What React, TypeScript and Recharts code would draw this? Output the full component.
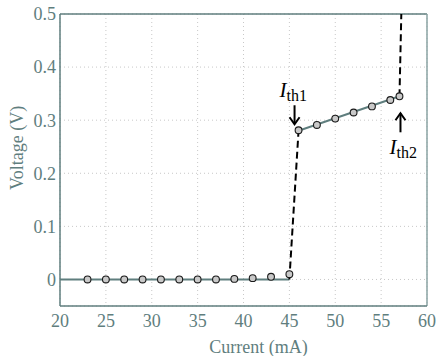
import { ComposedChart, Line, Scatter, XAxis, YAxis, CartesianGrid, ReferenceLine, ReferenceDot } from 'recharts'

const xTicks = [20, 25, 30, 35, 40, 45, 50, 55, 60]
const yTicks = [0, 0.1, 0.2, 0.3, 0.4, 0.5]

// measured points
const measCurrent = [23, 25, 27, 29, 31, 33, 35, 37, 39, 41, 43, 45, 46, 48, 50, 52, 54, 56, 57]
const measVoltage = [0, 0, 0, 0, 0, 0, 0, 0, 0.001, 0.0025, 0.005, 0.01, 0.281, 0.291, 0.303, 0.3145, 0.326, 0.338, 0.345]

// fitted segments
const fitLow = [{ x: 20, y: 0 }, { x: 45, y: 0 }]
const fitHigh = [{ x: 46, y: 0.28 }, { x: 57, y: 0.345 }]
const jump1 = [{ x: 45, y: 0 }, { x: 46, y: 0.28 }]
const jump2 = [{ x: 57, y: 0.345 }, { x: 57.2, y: 0.5 }]

const points = measCurrent.map((c, i) => ({ x: c, y: measVoltage[i] }))

const axisColor = '#5f7e7e'
const font = "'Liberation Serif', 'Times New Roman', serif"

const Dot = (p: any) => (
  <circle cx={p.cx} cy={p.cy} r={3.4} fill="#c9c9c9" stroke="#1a1a1a" strokeWidth={1.1} />
)

const Ith = ({ cx, cy, sub, up }: any) => {
  // arrow and label placed relative to the point
  const lbl = (x: number, y: number) => (
    <text x={x} y={y} style={{ fontFamily: font }} fill="#000">
      <tspan fontStyle="italic" fontSize={21}>I</tspan>
      <tspan fontSize={16} dy={4}>{sub}</tspan>
    </text>
  )
  if (!up) {
    return (
      <g>
        {lbl(cx - 19, cy - 33)}
        <line x1={cx - 4} y1={cy - 25} x2={cx - 4} y2={cy - 7} stroke="#000" strokeWidth={2} />
        <path d={`M${cx - 9},${cy - 13} L${cx - 4},${cy - 6} L${cx + 1},${cy - 13}`} fill="none" stroke="#000" strokeWidth={2} />
      </g>
    )
  }
  return (
    <g>
      <line x1={cx + 1} y1={cy + 17} x2={cx + 1} y2={cy + 36} stroke="#000" strokeWidth={2} />
      <path d={`M${cx - 4},${cy + 24} L${cx + 1},${cy + 17} L${cx + 6},${cy + 24}`} fill="none" stroke="#000" strokeWidth={2} />
      {lbl(cx - 10, cy + 58)}
    </g>
  )
}

export default function App() {
  return (
    <div style={{ position: 'absolute', left: 0, top: 0, background: '#fff', fontFamily: font }}>
      <ComposedChart width={436} height={356} margin={{ top: 14, right: 9, left: 0, bottom: 0 }} style={{ fontFamily: font }}>
        <CartesianGrid stroke="#c8c8c8" strokeDasharray="1 3" />
        <XAxis
          type="number"
          dataKey="x"
          domain={[20, 60]}
          ticks={xTicks}
          height={50}
          stroke={axisColor}
          strokeWidth={1.5}
          tickLine={false}
          tick={{ fill: axisColor, fontSize: 18, fontFamily: font }}
          label={{ value: 'Current (mA)', position: 'insideBottom', offset: 3, dx: 15, fill: axisColor, fontSize: 18, fontFamily: font }}
        />
        <YAxis
          type="number"
          domain={[-0.05, 0.5]}
          ticks={yTicks}
          width={60}
          stroke={axisColor}
          strokeWidth={1.5}
          tickLine={false}
          tickSize={3}
          tickMargin={1}
          tick={{ fill: axisColor, fontSize: 18, fontFamily: font }}
          label={{ value: 'Voltage (V)', angle: -90, position: 'insideLeft', offset: 17, dy: 30, fill: axisColor, fontSize: 18, fontFamily: font }}
        />
        <ReferenceLine y={0.5} stroke={axisColor} strokeWidth={1.5} />
        <ReferenceLine x={60} stroke="#8aa3a3" strokeWidth={1.5} />
        <Line data={fitLow} dataKey="y" stroke="#5f7e7e" strokeWidth={2} dot={false} isAnimationActive={false} />
        <Line data={fitHigh} dataKey="y" stroke="#5f7e7e" strokeWidth={2} dot={false} isAnimationActive={false} />
        <Line data={jump1} dataKey="y" stroke="#000" strokeWidth={2} strokeDasharray="7 4" dot={false} isAnimationActive={false} />
        <Line data={jump2} dataKey="y" stroke="#000" strokeWidth={2} strokeDasharray="7 4" dot={false} isAnimationActive={false} />
        <Scatter data={points} dataKey="y" shape={Dot} isAnimationActive={false} />
        <ReferenceDot x={46} y={0.281} shape={(p: any) => <Ith cx={p.cx} cy={p.cy} sub="th1" />} />
        <ReferenceDot x={57} y={0.345} shape={(p: any) => <Ith cx={p.cx} cy={p.cy} sub="th2" up />} />
      </ComposedChart>
    </div>
  )
}
